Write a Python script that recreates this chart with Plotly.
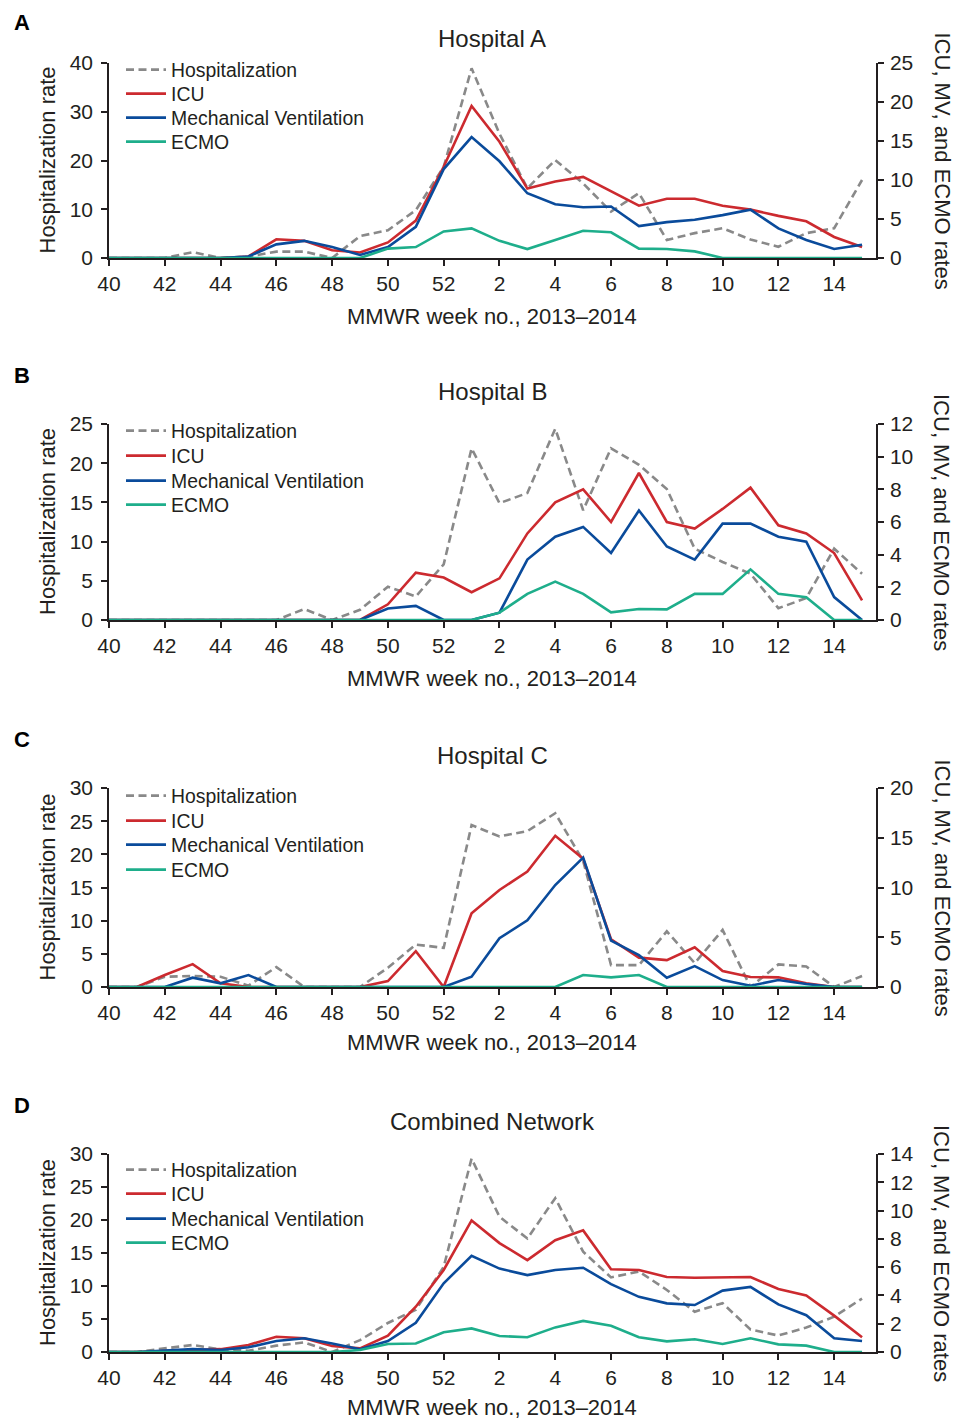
import plotly.graph_objects as go

# ---------------- data ----------------
weeks = [str(w) for w in list(range(40, 53)) + list(range(1, 16))]
series_names = ["Hospitalization", "ICU", "Mechanical Ventilation", "ECMO"]

A_hosp = [0, 0, 0, 1.2, 0, 0.3, 1.3, 1.3, 0, 4.5, 5.7, 9.8, 18.7, 38.9, 25.5, 14.3, 20.1, 15.3, 9.5, 13.3, 3.7, 5.1, 6.1, 3.8, 2.3, 5.1, 6.1, 16.0]
A_icu = [0, 0, 0, 0, 0, 0.2, 2.4, 2.2, 1.0, 0.7, 2.0, 4.8, 11.7, 19.5, 14.9, 8.9, 9.8, 10.4, 8.5, 6.7, 7.6, 7.6, 6.7, 6.2, 5.4, 4.7, 2.7, 1.4]
A_mv = [0, 0, 0, 0, 0, 0.2, 1.75, 2.2, 1.4, 0.4, 1.4, 4.0, 11.4, 15.5, 12.4, 8.3, 6.9, 6.5, 6.6, 4.1, 4.6, 4.9, 5.5, 6.2, 3.8, 2.3, 1.15, 1.7]
A_ecmo = [0, 0, 0, 0, 0, 0, 0, 0, 0, 0, 1.2, 1.4, 3.4, 3.8, 2.2, 1.15, 2.3, 3.5, 3.3, 1.2, 1.15, 0.85, 0, 0, 0, 0, 0, 0]

B_hosp = [0, 0, 0, 0, 0, 0, 0, 1.4, 0, 1.3, 4.25, 3.0, 7.1, 21.9, 14.9, 16.2, 24.4, 14.0, 21.9, 19.8, 16.7, 9.1, 7.4, 5.9, 1.5, 2.8, 9.1, 5.9]
B_icu = [0, 0, 0, 0, 0, 0, 0, 0, 0, 0, 0.96, 2.9, 2.6, 1.7, 2.55, 5.3, 7.2, 8.0, 6.0, 9.0, 6.0, 5.6, 6.8, 8.1, 5.8, 5.3, 4.1, 1.2]
B_mv = [0, 0, 0, 0, 0, 0, 0, 0, 0, 0, 0.7, 0.86, 0, 0, 0.45, 3.7, 5.1, 5.7, 4.1, 6.7, 4.5, 3.7, 5.9, 5.9, 5.1, 4.8, 1.4, 0]
B_ecmo = [0, 0, 0, 0, 0, 0, 0, 0, 0, 0, 0, 0, 0, 0, 0.45, 1.6, 2.35, 1.6, 0.47, 0.67, 0.65, 1.6, 1.6, 3.1, 1.6, 1.4, 0, 0]

C_hosp = [0, 0, 1.55, 1.65, 1.55, 0.2, 3.0, 0, 0, 0, 2.9, 6.4, 5.9, 24.4, 22.7, 23.5, 26.2, 19.0, 3.3, 3.3, 8.4, 3.6, 8.6, 0, 3.4, 3.1, 0, 1.65]
C_icu = [0, 0, 1.2, 2.3, 0.37, 0, 0, 0, 0, 0, 0.6, 3.6, 0, 7.4, 9.75, 11.6, 15.2, 12.9, 4.8, 2.95, 2.7, 4.0, 1.6, 1.0, 0.97, 0.37, 0, 0]
C_mv = [0, 0, 0, 0.94, 0.37, 1.2, 0, 0, 0, 0, 0, 0, 0, 1.04, 4.9, 6.7, 10.25, 13.0, 4.66, 3.2, 0.94, 2.1, 0.7, 0.13, 0.7, 0.3, 0, 0]
C_ecmo = [0, 0, 0, 0, 0, 0, 0, 0, 0, 0, 0, 0, 0, 0, 0, 0, 0, 1.2, 0.97, 1.2, 0, 0, 0, 0, 0, 0, 0, 0]

D_hosp = [0, 0, 0.55, 1.06, 0.4, 0.2, 0.96, 1.46, 0, 1.8, 4.4, 6.4, 12.9, 29.3, 20.5, 17.2, 23.3, 15.2, 11.3, 12.2, 9.4, 6.1, 7.4, 3.4, 2.5, 3.7, 5.35, 8.1]
D_icu = [0, 0, 0.07, 0.14, 0.2, 0.5, 1.08, 0.97, 0.42, 0.26, 1.15, 3.2, 5.8, 9.3, 7.7, 6.5, 7.9, 8.6, 5.85, 5.8, 5.3, 5.25, 5.25, 5.3, 4.45, 4.0, 2.57, 1.04]
D_mv = [0, 0, 0.1, 0.2, 0.14, 0.33, 0.78, 0.97, 0.6, 0.2, 0.78, 2.07, 4.86, 6.8, 5.9, 5.44, 5.8, 5.96, 4.8, 3.9, 3.44, 3.32, 4.34, 4.6, 3.37, 2.6, 0.97, 0.78]
D_ecmo = [0, 0, 0, 0, 0, 0, 0, 0, 0, 0.14, 0.57, 0.6, 1.4, 1.67, 1.13, 1.04, 1.74, 2.2, 1.86, 1.04, 0.75, 0.9, 0.57, 0.97, 0.54, 0.45, 0, 0]

panel_letters = ["A", "B", "C", "D"]
panel_titles = ["Hospital A", "Hospital B", "Hospital C", "Combined Network"]
left_ranges = [[0, 40], [0, 25], [0, 30], [0, 30]]
left_dticks = [10, 5, 5, 5]
right_ranges = [[0, 25], [0, 12], [0, 20], [0, 14]]
right_dticks = [5, 2, 5, 2]
panel_data = [
    [A_hosp, A_icu, A_mv, A_ecmo],
    [B_hosp, B_icu, B_mv, B_ecmo],
    [C_hosp, C_icu, C_mv, C_ecmo],
    [D_hosp, D_icu, D_mv, D_ecmo],
]

# ---------------- layout geometry (pixels) ----------------
W, H = 956, 1419
ML, MR, MT, MB = 109, 80, 63, 67
PW, PH = W - ML - MR, H - MT - MB
tops = [63, 424, 788, 1154]
bottoms = [258, 620, 987, 1352]
title_ys = [39, 392, 755, 1121]
letter_ys = [22, 375, 739, 1105]
xtitle_ys = [316, 679, 1042, 1407]
legend_rows = [[70, 94, 118, 142], [431, 456, 481, 505], [796, 821, 845, 870], [1170, 1194, 1219, 1243]]


def py(ypx):
    return 1 - (ypx - MT) / PH


def px(xpx):
    return (xpx - ML) / PW


FONT = "Liberation Sans, Arial, Helvetica, sans-serif"
TXT = "#231f20"
AXC = "#231f20"
colors = ["#898989", "#cc2a2f", "#0a4b9b", "#1eae8b"]
dashes = ["8px,4.5px", "solid", "solid", "solid"]

fig = go.Figure()
layout = dict(
    width=W, height=H,
    margin=dict(l=ML, r=MR, t=MT, b=MB, pad=0),
    paper_bgcolor="white", plot_bgcolor="white",
    font=dict(family=FONT, size=21, color=TXT),
    annotations=[],
)

legend_idx = 0
for k in range(4):
    xid = "x" if k == 0 else f"x{k + 1}"
    yl = 2 * k + 1
    yr = 2 * k + 2
    yl_id = "y" if yl == 1 else f"y{yl}"
    yr_id = f"y{yr}"
    for s in range(4):
        legend_idx += 1
        lname = "legend" if legend_idx == 1 else f"legend{legend_idx}"
        fig.add_trace(go.Scatter(
            x=weeks, y=panel_data[k][s], name=series_names[s], mode="lines",
            line=dict(color=colors[s], width=2.6, dash=dashes[s]),
            xaxis=xid, yaxis=yl_id if s == 0 else yr_id,
            legend=lname, showlegend=True,
        ))
        layout[lname] = dict(
            x=px(121), y=py(legend_rows[k][s]), xanchor="left", yanchor="middle",
            bgcolor="rgba(0,0,0,0)", borderwidth=0,
            font=dict(family=FONT, size=19.4, color=TXT), itemwidth=40,
        )

    common = dict(
        showline=True, linecolor=AXC, linewidth=1.5,
        ticks="outside", ticklen=6, tickwidth=1.5, tickcolor=AXC,
        showgrid=False, zeroline=False, layer="below traces",
        tickfont=dict(family=FONT, size=21, color=TXT),
    )
    xname = "xaxis" if k == 0 else f"xaxis{k + 1}"
    layout[xname] = dict(
        domain=[0, 1], anchor=yl_id, type="category", range=[0, 27.5],
        tickmode="linear", tick0=0, dtick=2, ticklabelstandoff=0, **common,
    )
    layout["yaxis" if yl == 1 else f"yaxis{yl}"] = dict(
        domain=[py(bottoms[k]), py(tops[k])], anchor=xid,
        range=left_ranges[k], tickmode="linear", tick0=0, dtick=left_dticks[k],
        ticklabelstandoff=4, **common,
    )
    layout[f"yaxis{yr}"] = dict(
        overlaying=yl_id, side="right", anchor=xid,
        range=right_ranges[k], tickmode="linear", tick0=0, dtick=right_dticks[k],
        ticklabelstandoff=2, **common,
    )
    mid = (tops[k] + bottoms[k]) / 2
    layout["annotations"] += [
        dict(text=f"<b>{panel_letters[k]}</b>", x=px(22), y=py(letter_ys[k]), xref="paper", yref="paper",
             xanchor="center", yanchor="middle", showarrow=False, font=dict(size=22, color="black")),
        dict(text=panel_titles[k], x=px(492), y=py(title_ys[k]), xref="paper", yref="paper",
             xanchor="center", yanchor="middle", showarrow=False, font=dict(size=24, color=TXT)),
        dict(text="MMWR week no., 2013–2014", x=px(492), y=py(xtitle_ys[k]), xref="paper", yref="paper",
             xanchor="center", yanchor="middle", showarrow=False, font=dict(size=22, color=TXT)),
        dict(text="Hospitalization rate", x=px(47), y=py(mid), xref="paper", yref="paper",
             xanchor="center", yanchor="middle", showarrow=False, textangle=-90, font=dict(size=22, color=TXT)),
        dict(text="ICU, MV, and ECMO rates", x=px(942), y=py(mid), xref="paper", yref="paper",
             xanchor="center", yanchor="middle", showarrow=False, textangle=90, font=dict(size=22, color=TXT)),
    ]

fig.update_layout(**layout)
fig.write_html("out.html", config={"displayModeBar": False},
               post_script="document.body.style.margin='0';document.body.style.overflow='hidden';")
